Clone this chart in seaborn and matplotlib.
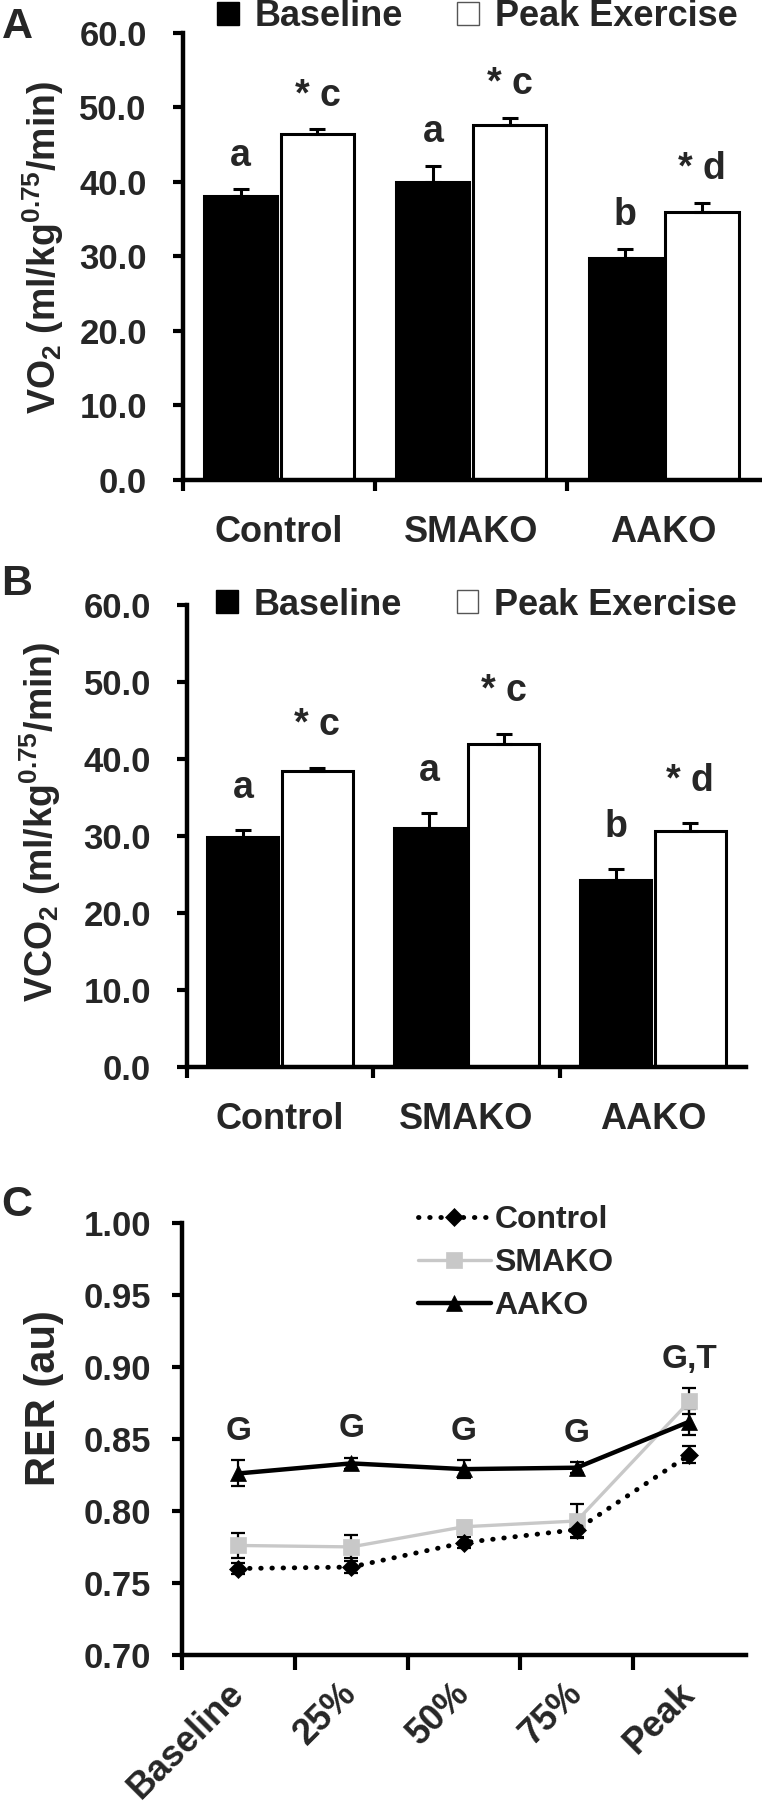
import numpy as np
import pandas as pd
import matplotlib
matplotlib.use("Agg")
import matplotlib.pyplot as plt
import seaborn as sns
from matplotlib.patches import Patch
from matplotlib.ticker import FormatStrFormatter

# ---- data ----
groups = ["Control", "SMAKO", "AAKO"]
conditions = ["Baseline", "Peak Exercise"]

vo2_baseline = [38.1, 40.0, 29.8]
vo2_baseline_err = [0.9, 2.2, 1.2]
vo2_peak = [46.5, 47.6, 35.9]
vo2_peak_err = [0.6, 1.0, 1.3]

vco2_baseline = [29.9, 31.1, 24.3]
vco2_baseline_err = [0.9, 1.9, 1.4]
vco2_peak = [38.4, 42.0, 30.6]
vco2_peak_err = [0.5, 1.3, 1.1]

baseline_marks = ["a", "a", "b"]
peak_marks = ["* c", "* c", "* d"]

stages = ["Baseline", "25%", "50%", "75%", "Peak"]
rer_control = [0.760, 0.761, 0.778, 0.787, 0.839]
rer_control_err = [0.004, 0.004, 0.004, 0.005, 0.006]
rer_smako = [0.776, 0.775, 0.789, 0.793, 0.876]
rer_smako_err = [0.009, 0.008, 0.004, 0.012, 0.009]
rer_aako = [0.826, 0.833, 0.829, 0.830, 0.862]
rer_aako_err = [0.009, 0.004, 0.006, 0.004, 0.009]
rer_marks = ["G", "G", "G", "G", "G,T"]

sns.set_style("white")
plt.rcParams["font.family"] = ["Liberation Sans", "DejaVu Sans"]
plt.rcParams["font.weight"] = "bold"
plt.rcParams["axes.labelweight"] = "bold"
plt.rcParams["mathtext.fontset"] = "custom"
plt.rcParams["mathtext.rm"] = "Liberation Sans:bold"
plt.rcParams["mathtext.it"] = "Liberation Sans:bold:italic"
plt.rcParams["mathtext.bf"] = "Liberation Sans:bold"
plt.rcParams["mathtext.default"] = "rm"


def style_axes(ax, ypad):
    for s in ["top", "right"]:
        ax.spines[s].set_visible(False)
    for s in ["left", "bottom"]:
        ax.spines[s].set_linewidth(3.2)
        ax.spines[s].set_color("black")
    ax.tick_params(axis="y", which="major", direction="out", length=7, width=3,
                   pad=ypad, labelsize=25, left=True, color="black")
    ax.tick_params(axis="x", which="minor", direction="out", length=8, width=3,
                   bottom=True, color="black")
    ax.tick_params(axis="x", which="major", length=0)


def bar_panel(ax, base, base_err, peak, peak_err, ylabel, mark_off, label_x, label_y):
    df = pd.DataFrame({
        "group": groups * 2,
        "condition": [conditions[0]] * 3 + [conditions[1]] * 3,
        "value": base + peak,
    })
    sns.barplot(data=df, x="group", y="value", hue="condition", order=groups,
                hue_order=conditions, palette=["black", "white"], saturation=1,
                edgecolor="black", linewidth=2.2, width=0.8, gap=0.05,
                errorbar=None, legend=False, ax=ax)
    bars = list(ax.containers[:2])
    for cont, errs, marks in zip(bars, [base_err, peak_err], [baseline_marks, peak_marks]):
        xs = [b.get_x() + b.get_width() / 2 for b in cont]
        ys = [b.get_height() for b in cont]
        ax.errorbar(xs, ys, yerr=[np.zeros(len(errs)), errs], fmt="none",
                    ecolor="black", elinewidth=2.2, capsize=5.5, capthick=2.2)
        for x, y, e, m in zip(xs, ys, errs, marks):
            ax.text(x, y + e + mark_off, m, ha="center", va="center",
                    fontsize=27, fontweight="bold")
    ax.set_ylim(0, 60)
    ax.set_xlim(-0.5, 2.5)
    ax.set_yticks(np.arange(0, 61, 10))
    ax.yaxis.set_major_formatter(FormatStrFormatter("%.1f"))
    ax.set_xticks([-0.5, 0.5, 1.5], minor=True)
    style_axes(ax, 19)
    ax.tick_params(axis="x", which="major", pad=25, labelsize=26)
    ax.set_xlabel("")
    ax.set_ylabel(ylabel, fontsize=27)
    ax.yaxis.set_label_coords(label_x, label_y)
    handles = [Patch(facecolor="black", edgecolor="black"),
               Patch(facecolor="white", edgecolor="#555555", linewidth=1)]
    return handles


fig = plt.figure(figsize=(7.62, 18.2), dpi=100)

# ---- panel A ----
axa = fig.add_axes([0.240, 0.7363, 0.757, 0.2456])
h = bar_panel(axa, vo2_baseline, vo2_baseline_err, vo2_peak, vo2_peak_err,
              "VO$_2$ (ml/kg$^{0.75}$/min)", 4.5, -0.203, 0.52)
axa.legend(h, conditions, loc="center left", bbox_to_anchor=(0.059, 1.036), ncol=2,
           frameon=False, fontsize=26, handlelength=0.6, handleheight=0.6,
           handletextpad=0.45, columnspacing=1.5, borderpad=0, borderaxespad=0)

# ---- panel B ----
axb = fig.add_axes([0.2454, 0.4137, 0.7336, 0.2538])
h = bar_panel(axb, vco2_baseline, vco2_baseline_err, vco2_peak, vco2_peak_err,
              "VCO$_2$ (ml/kg$^{0.75}$/min)", 5.5, -0.222, 0.53)
axb.legend(h, conditions, loc="center left", bbox_to_anchor=(0.052, 1.0), ncol=2,
           frameon=False, fontsize=26, handlelength=0.6, handleheight=0.6,
           handletextpad=0.45, columnspacing=1.5, borderpad=0, borderaxespad=0)

# ---- panel C ----
axc = fig.add_axes([0.2388, 0.0907, 0.740, 0.2374])
xpos = np.arange(len(stages))
series = [
    ("Control", rer_control, rer_control_err,
     dict(color="black", linewidth=3.5, linestyle=(0, (0.1, 2.2)), dash_capstyle="round",
          marker="D", markersize=9, zorder=4)),
    ("SMAKO", rer_smako, rer_smako_err,
     dict(color="#c8c8c8", linewidth=2.4, marker="s", markersize=12, zorder=3)),
    ("AAKO", rer_aako, rer_aako_err,
     dict(color="black", linewidth=3.2, marker="^", markersize=12, zorder=5)),
]
for name, vals, errs, kw in series:
    axc.errorbar(xpos, vals, yerr=errs, fmt="none", ecolor="black",
                 elinewidth=1.6, capsize=5, capthick=1.6, zorder=2)
    sns.lineplot(x=xpos, y=vals, ax=axc, label=name, markeredgecolor=kw["color"],
                 markeredgewidth=0.5, **kw)

tops = np.max([np.array(rer_control) + rer_control_err,
               np.array(rer_smako) + rer_smako_err,
               np.array(rer_aako) + rer_aako_err], axis=0)
for x, t, m in zip(xpos, tops, rer_marks):
    axc.text(x, t + 0.02, m, ha="center", va="center", fontsize=24, fontweight="bold")

axc.set_ylim(0.70, 1.00)
axc.set_xlim(-0.5, len(stages) - 0.5)
axc.set_yticks(np.arange(0.70, 1.001, 0.05))
axc.yaxis.set_major_formatter(FormatStrFormatter("%.2f"))
axc.set_xticks(xpos)
axc.set_xticklabels(stages)
axc.set_xticks(np.arange(-0.5, len(stages) - 1, 1.0), minor=True)
style_axes(axc, 15)
axc.tick_params(axis="x", which="minor", length=11)
axc.tick_params(axis="x", which="major", pad=24, labelsize=26)
for lab in axc.get_xticklabels():
    lab.set_rotation(45)
    lab.set_ha("right")
    lab.set_va("center")
    lab.set_rotation_mode("anchor")
axc.set_ylabel("RER (au)", fontsize=30)
axc.yaxis.set_label_coords(-0.209, 0.595)
axc.legend(loc="center left", bbox_to_anchor=(0.418, 0.907), frameon=False,
           fontsize=23, handlelength=2.3, handletextpad=0.1, labelspacing=0.4,
           borderpad=0, borderaxespad=0)

# panel letters
fig.text(0.002, 1 - 38 / 1820, "A", fontsize=31, fontweight="bold", va="baseline")
fig.text(0.002, 1 - 595 / 1820, "B", fontsize=31, fontweight="bold", va="baseline")
fig.text(0.002, 1 - 1216 / 1820, "C", fontsize=31, fontweight="bold", va="baseline")

fig.savefig("out.png", dpi=100)
